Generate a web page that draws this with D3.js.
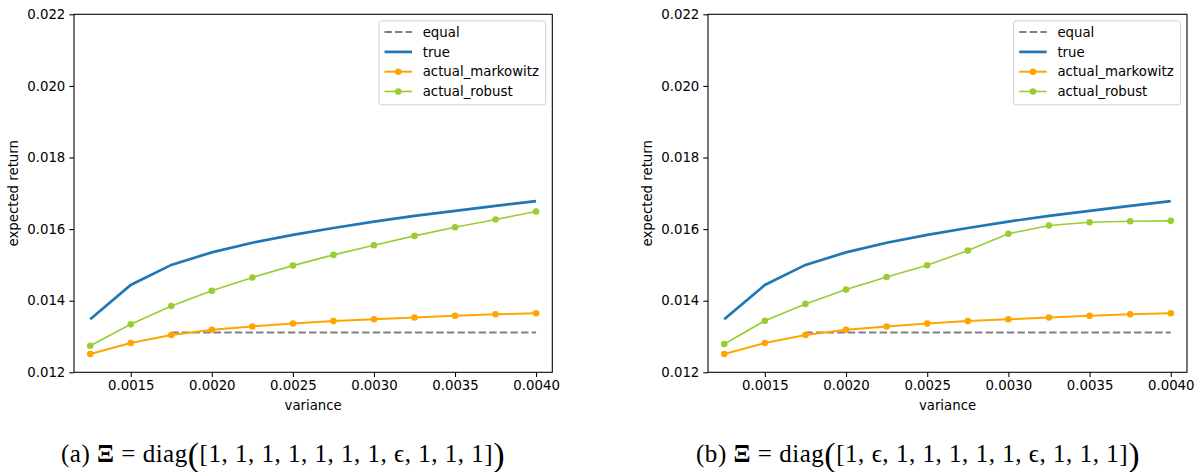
<!DOCTYPE html>
<html>
<head>
<meta charset="utf-8">
<script src="https://cdn.jsdelivr.net/npm/d3@7"></script>
<style>
  body { margin: 0; background: #fff; }
  svg text { font-family: "DejaVu Sans", sans-serif; }
</style>
</head>
<body>
<div id="chart"></div>
<script>
// variance grid (x)
const variances = [0.00125, 0.0015, 0.00175, 0.002, 0.00225, 0.0025, 0.00275, 0.003, 0.00325, 0.0035, 0.00375, 0.004];
const xTicks = [0.0015, 0.002, 0.0025, 0.003, 0.0035, 0.004];
const yTicks = [0.012, 0.014, 0.016, 0.018, 0.020, 0.022];

// panel a
const trueA = [0.01348, 0.01444, 0.01500, 0.01535, 0.01562, 0.01584, 0.01603, 0.01621, 0.01637, 0.01651, 0.01665, 0.01678];
const markowitzA = [0.01251, 0.01282, 0.01304, 0.01319, 0.01328, 0.01336, 0.01343, 0.01348, 0.01353, 0.01358, 0.01362, 0.01365];
const robustA = [0.01274, 0.01334, 0.01385, 0.01428, 0.01465, 0.01498, 0.01528, 0.01555, 0.01581, 0.01605, 0.01627, 0.01649];
const equalA = [null, null, 0.01311, 0.01311, 0.01311, 0.01311, 0.01311, 0.01311, 0.01311, 0.01311, 0.01311, 0.01311];

// panel b
const trueB = [0.01348, 0.01444, 0.01500, 0.01535, 0.01562, 0.01584, 0.01603, 0.01621, 0.01637, 0.01651, 0.01665, 0.01678];
const markowitzB = [0.01251, 0.01282, 0.01304, 0.01319, 0.01328, 0.01336, 0.01343, 0.01348, 0.01353, 0.01358, 0.01362, 0.01365];
const robustB = [0.01279, 0.01344, 0.01391, 0.01431, 0.01466, 0.01499, 0.01540, 0.01587, 0.01610, 0.01619, 0.01622, 0.01623];
const equalB = [null, null, 0.01311, 0.01311, 0.01311, 0.01311, 0.01311, 0.01311, 0.01311, 0.01311, 0.01311, 0.01311];

const legendNames = ["equal", "true", "actual_markowitz", "actual_robust"];
const captionA = ["(a)", "1, 1, 1, 1, 1, 1, 1, ϵ, 1, 1, 1"];
const captionB = ["(b)", "1, ϵ, 1, 1, 1, 1, 1, ϵ, 1, 1, 1"];

const W = 1198, H = 472;
const fs = 13.3;

const svg = d3.select("#chart").append("svg")
  .attr("width", W).attr("height", H);

function drawPanel(left, right, series, caption, capX) {
  const top = 14.3, bottom = 372.3;
  const x = d3.scaleLinear().domain([0.00115, 0.0041]).range([left, right]);
  const y = d3.scaleLinear().domain([0.012, 0.022]).range([bottom, top]);
  const g = svg.append("g");

  const styles = [
    {color: "#808080", width: 2, dash: "7.4,3.2", dots: false},
    {color: "#1f77b4", width: 2.7, dash: null, dots: false},
    {color: "#ffa500", width: 2, dash: null, dots: true},
    {color: "#9acd32", width: 1.6, dash: null, dots: true}
  ];

  const line = d3.line()
    .defined(d => d[1] != null)
    .x(d => x(d[0])).y(d => y(d[1]));

  series.forEach(function(vals, k) {
    const st = styles[k];
    const pts = variances.map((v, i) => [v, vals[i]]);
    g.append("path")
      .attr("d", line(pts))
      .attr("fill", "none")
      .attr("stroke", st.color)
      .attr("stroke-width", st.width)
      .attr("stroke-dasharray", st.dash);
    if (st.dots) {
      g.selectAll(null).data(pts.filter(d => d[1] != null)).enter()
        .append("circle")
        .attr("cx", d => x(d[0])).attr("cy", d => y(d[1]))
        .attr("r", 3.3).attr("fill", st.color);
    }
  });

  // axes
  const xAxis = d3.axisBottom(x).tickValues(xTicks).tickFormat(d3.format(".4f"))
    .tickSizeOuter(0).tickSize(4.7).tickPadding(4);
  const yAxis = d3.axisLeft(y).tickValues(yTicks).tickFormat(d3.format(".3f"))
    .tickSizeOuter(0).tickSize(4.7).tickPadding(4);
  const gx = g.append("g").attr("transform", "translate(0," + bottom + ")").call(xAxis);
  const gy = g.append("g").attr("transform", "translate(" + left + ",0)").call(yAxis);
  [gx, gy].forEach(a => {
    a.select(".domain").remove();
    a.selectAll("text").attr("font-size", fs).attr("fill", "#000");
    a.selectAll("line").attr("stroke", "#000").attr("stroke-width", 1.07);
  });
  g.append("rect")
    .attr("x", left).attr("y", top)
    .attr("width", right - left).attr("height", bottom - top)
    .attr("fill", "none").attr("stroke", "#000").attr("stroke-width", 1.07);

  g.append("text")
    .attr("x", (left + right) / 2).attr("y", 410)
    .attr("text-anchor", "middle").attr("font-size", fs)
    .text("variance");
  g.append("text")
    .attr("transform", "translate(" + (left - 56) + "," + ((top + bottom) / 2) + ") rotate(-90)")
    .attr("text-anchor", "middle").attr("font-size", fs)
    .text("expected return");

  // legend
  const lw = 166.7, lx = right - 6.6 - lw, ly = top + 6.6;
  g.append("rect")
    .attr("x", lx).attr("y", ly).attr("width", lw).attr("height", 84)
    .attr("rx", 2.5).attr("fill", "#fff").attr("fill-opacity", 0.8)
    .attr("stroke", "#d0d0d0").attr("stroke-width", 1);
  legendNames.forEach(function(name, k) {
    const st = styles[k];
    const cy = ly + 11.2 + k * 19.8;
    g.append("line")
      .attr("x1", lx + 5.5).attr("x2", lx + 33)
      .attr("y1", cy).attr("y2", cy)
      .attr("stroke", st.color).attr("stroke-width", st.width)
      .attr("stroke-dasharray", st.dash);
    if (st.dots) {
      g.append("circle").attr("cx", lx + 19.3).attr("cy", cy).attr("r", 3.3).attr("fill", st.color);
    }
    g.append("text")
      .attr("x", lx + 43.7).attr("y", cy).attr("dy", "0.36em")
      .attr("font-size", fs).text(name);
  });

  // caption, stretched to the reference width
  const cap = svg.append("text")
    .attr("x", capX).attr("y", 462)
    .attr("font-size", 25)
    .style("font-family", "'Liberation Serif', serif");
  cap.append("tspan").text(caption[0] + " ");
  cap.append("tspan").attr("font-weight", "bold").text("Ξ");
  cap.append("tspan").text(" = diag");
  cap.append("tspan").attr("font-size", 34).attr("dy", 4).text("(");
  cap.append("tspan").attr("dy", -4).text("[" + caption[1] + "]");
  cap.append("tspan").attr("font-size", 34).attr("dy", 4).text(")");
  const w = cap.node().getComputedTextLength();
  const n = cap.text().length;
  cap.style("letter-spacing", ((444 - w) / n) + "px");
}

drawPanel(74, 552.3, [equalA, trueA, markowitzA, robustA], captionA, 61);
drawPanel(708, 1187, [equalB, trueB, markowitzB, robustB], captionB, 696);
</script>
</body>
</html>
